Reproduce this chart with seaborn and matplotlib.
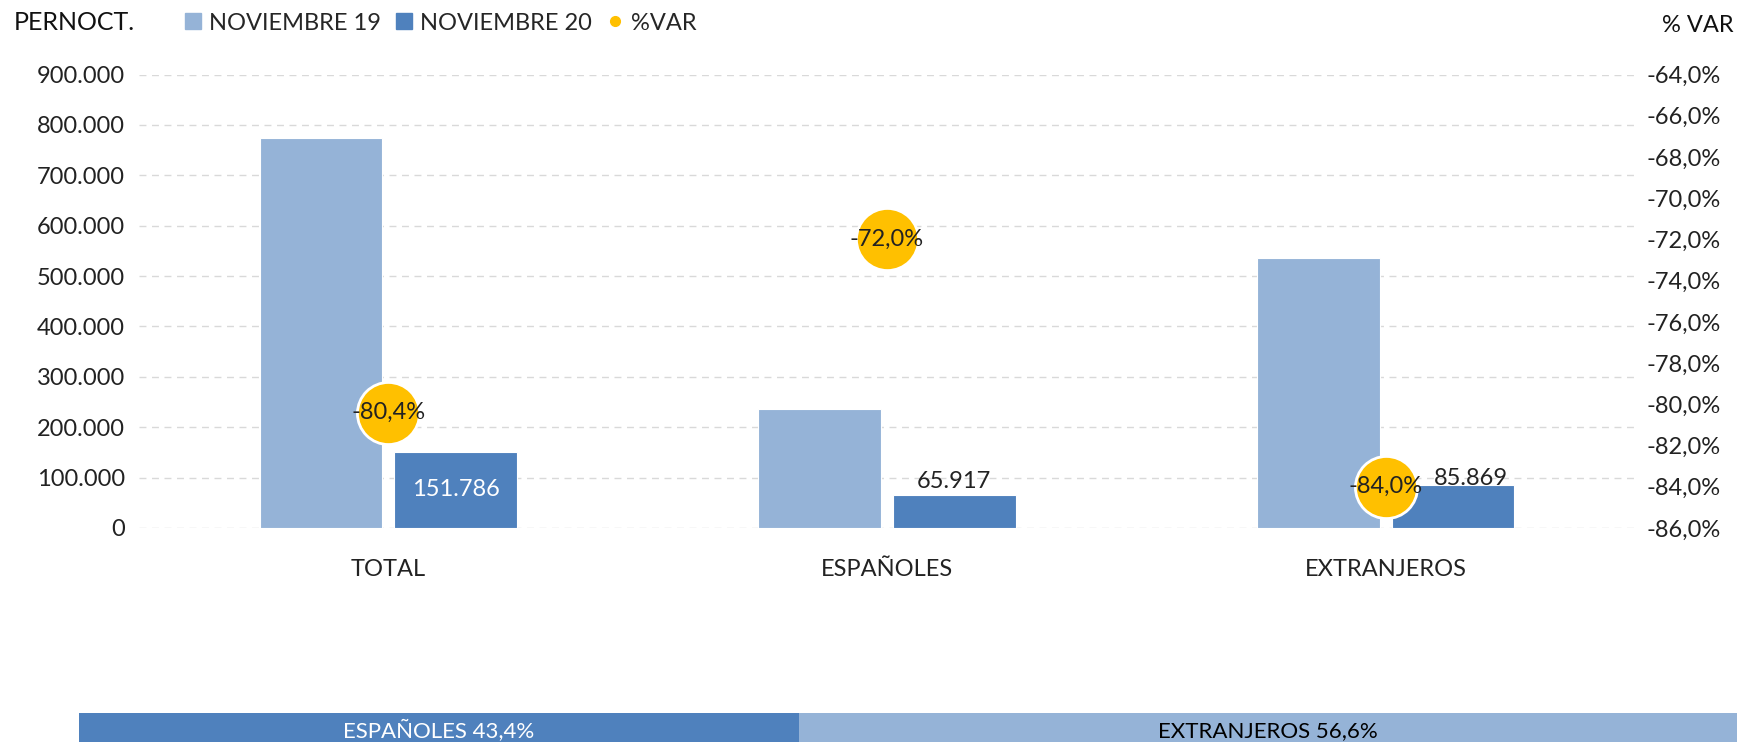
import matplotlib
matplotlib.use("Agg")
import matplotlib.pyplot as plt
from matplotlib.lines import Line2D
import seaborn as sns
import pandas as pd
import numpy as np

categories = ["TOTAL", "ESPAÑOLES", "EXTRANJEROS"]
nov19 = [774400, 235400, 536700]
nov20 = [151786, 65917, 85869]
var_pct = [-80.4, -72.0, -84.0]
series_names = ["NOVIEMBRE 19", "NOVIEMBRE 20"]
share_labels = ["ESPAÑOLES", "EXTRANJEROS"]
share_values = [43.4, 56.6]

LIGHT = "#95B3D7"
DARK = "#4F81BD"
YELLOW = "#FFC000"

sns.set_theme(style="white")
plt.rcParams["font.family"] = ["Lato", "DejaVu Sans"]

W, H = 1744, 742
fig = plt.figure(figsize=(W / 100, H / 100), dpi=100)
ax = fig.add_axes([139 / W, 1 - 528 / H, (1635 - 139) / W, (528 - 74.5) / H])

df = pd.DataFrame({
    "cat": categories * 2,
    "serie": [series_names[0]] * 3 + [series_names[1]] * 3,
    "val": nov19 + nov20,
})
sns.barplot(data=df, x="cat", y="val", hue="serie", palette=[LIGHT, DARK],
            width=0.54, gap=0.09, saturation=1, ax=ax, legend=False,
            edgecolor="white", linewidth=0.8)
ax.set_ylim(0, 900000)
ax.set_xlim(-0.5, 2.5)
ax.set_yticks(np.arange(0, 900001, 100000))
ax.set_yticklabels(["0" if v == 0 else f"{v:,.0f}".replace(",", ".") for v in np.arange(0, 900001, 100000)],
                   fontsize=17, color="#222222")
ax.set_xlabel("")
ax.set_ylabel("")
ax.tick_params(axis="x", labelsize=17, colors="#222222", pad=22, length=0)
ax.tick_params(axis="y", length=0, pad=10)
ax.yaxis.grid(True, linestyle=(0, (5, 4)), color="#D9D9D9", linewidth=1)
ax.set_axisbelow(True)
for s in ax.spines.values():
    s.set_visible(False)

# value labels for NOVIEMBRE 20
label_offsets = [None, (0, 13), (18, 6)]
bars20 = ax.containers[1]
for i, (rect, v) in enumerate(zip(bars20, nov20)):
    x = rect.get_x() + rect.get_width() / 2
    lab = f"{v:,.0f}".replace(",", ".")
    if label_offsets[i] is None:
        ax.text(x, v / 2, lab, ha="center", va="center", color="white", fontsize=17)
    else:
        dx, dy = label_offsets[i]
        ax.annotate(lab, (x, v), xytext=(dx * 0.72, dy * 0.72), textcoords="offset points",
                    ha="center", va="center", color="#222222", fontsize=17)

ax2 = ax.twinx()
ax2.set_ylim(-86, -64)
ax2.set_yticks(np.arange(-86, -63, 2))
ax2.set_yticklabels([f"{v:.1f}%".replace(".", ",") for v in np.arange(-86, -63, 2)],
                    fontsize=17, color="#222222")
ax2.tick_params(axis="y", length=0, pad=8)
for s in ax2.spines.values():
    s.set_visible(False)
ax2.grid(False)
sns.scatterplot(x=[0, 1, 2], y=var_pct, ax=ax2, s=2000, color=YELLOW,
                edgecolor="white", linewidth=2, zorder=5, legend=False)
for i, v in enumerate(var_pct):
    ax2.text(i, v, f"{v:.1f}%".replace(".", ","), ha="center", va="center",
             fontsize=17, color="#222222", zorder=6)
ax2.set_ylabel("")

# titles
fig.text(14 / W, 1 - 22 / H, "PERNOCT.", ha="left", va="center", fontsize=18, color="#111111")
fig.text(1 - 10 / W, 1 - 25 / H, "% VAR", ha="right", va="center", fontsize=17, color="#111111")

handles = [
    Line2D([], [], marker="s", linestyle="", markersize=12, color=LIGHT),
    Line2D([], [], marker="s", linestyle="", markersize=12, color=DARK),
    Line2D([], [], marker="o", linestyle="", markersize=7, color=YELLOW),
]
fig.legend(handles, series_names + ["%VAR"], loc="center left",
           bbox_to_anchor=(184 / W, 1 - 23 / H), ncol=3, frameon=False,
           handlelength=0.8, handletextpad=0.25, columnspacing=0.6,
           fontsize=17, borderaxespad=0, borderpad=0)

# bottom share strip
axs = fig.add_axes([79 / W, -0.02, (1737 - 79) / W, 0.02 + 1 - 713 / H])
lefts = np.cumsum([0] + share_values[:-1])
axs.barh([0] * len(share_values), share_values, left=lefts, height=1,
         color=[DARK, LIGHT], edgecolor="none")
axs.set_xlim(0, 100)
axs.set_ylim(-0.5, 0.5)
axs.axis("off")
txt_y = (1 - 731 / H)
for lbl, v, l, c in zip(share_labels, share_values, lefts, ["white", "black"]):
    fig.text(79 / W + (l + v / 2) / 100 * (1737 - 79) / W, txt_y,
             f"{lbl} {v:.1f}%".replace(".", ","), ha="center", va="center",
             fontsize=16, color=c)

fig.savefig("out.png", dpi=100)
